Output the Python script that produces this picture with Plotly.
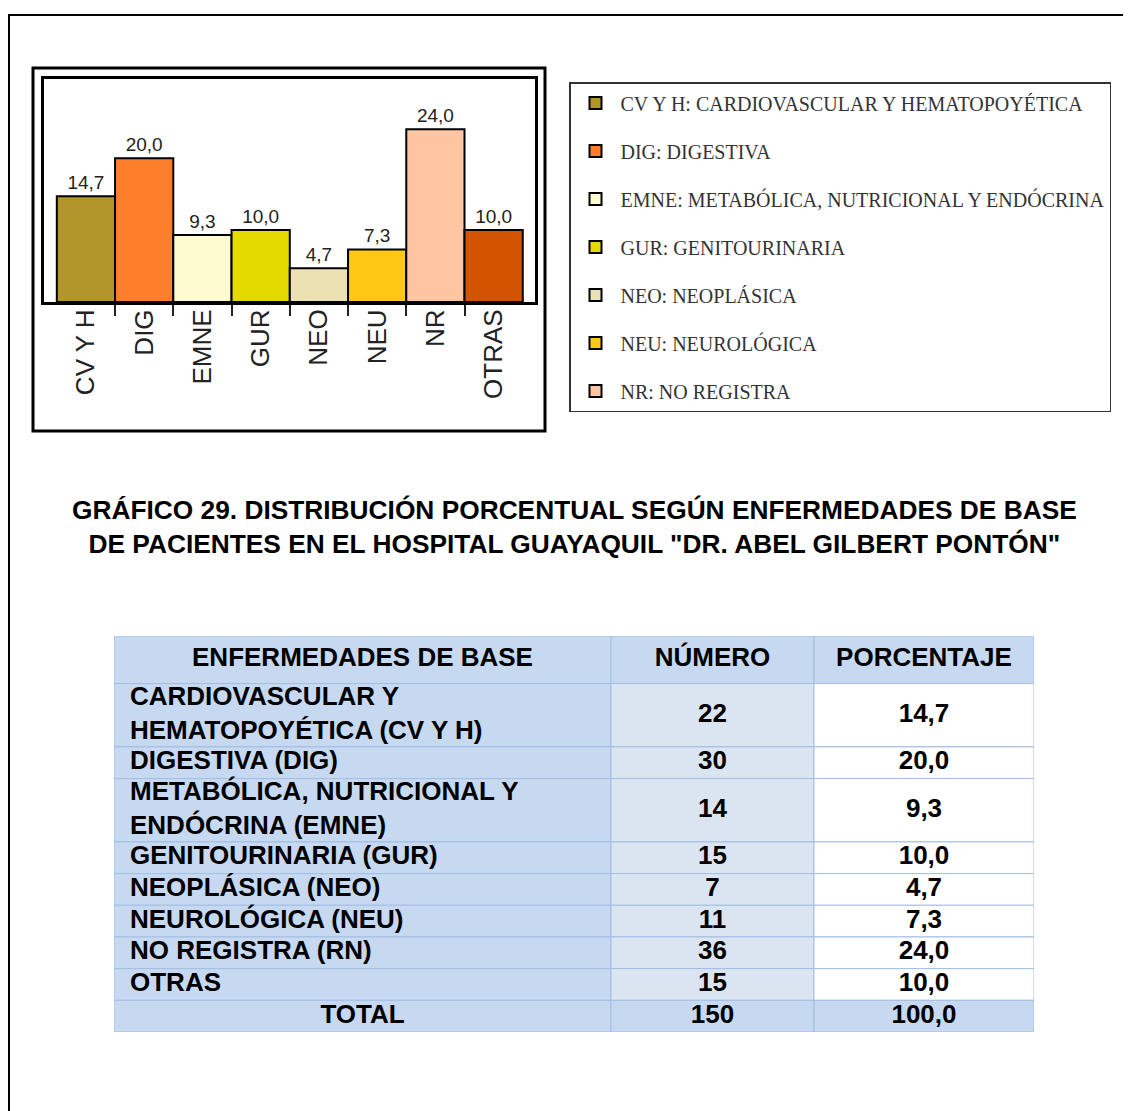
import plotly.graph_objects as go

# ---- bar chart data ----
categories = ["CV Y H", "DIG", "EMNE", "GUR", "NEO", "NEU", "NR", "OTRAS"]
percentages = [14.7, 20.0, 9.3, 10.0, 4.7, 7.3, 24.0, 10.0]
bar_colors = ["#b3962a", "#fd7f2c", "#fffbd1", "#e5da00", "#ece1b3", "#ffc814", "#fec6a3", "#d35400"]
legend_labels = [
    "CV Y H: CARDIOVASCULAR Y HEMATOPOYÉTICA",
    "DIG: DIGESTIVA",
    "EMNE: METABÓLICA, NUTRICIONAL Y ENDÓCRINA",
    "GUR: GENITOURINARIA",
    "NEO: NEOPLÁSICA",
    "NEU: NEUROLÓGICA",
    "NR: NO REGISTRA",
]

# ---- table data ----
table_header = ["ENFERMEDADES DE BASE", "NÚMERO", "PORCENTAJE"]
diseases = [
    "CARDIOVASCULAR Y<br>HEMATOPOYÉTICA (CV Y H)",
    "DIGESTIVA (DIG)",
    "METABÓLICA, NUTRICIONAL Y<br>ENDÓCRINA (EMNE)",
    "GENITOURINARIA (GUR)",
    "NEOPLÁSICA (NEO)",
    "NEUROLÓGICA (NEU)",
    "NO REGISTRA (RN)",
    "OTRAS",
]
counts = [22, 30, 14, 15, 7, 11, 36, 15]
total_label = "TOTAL"

title = ("GRÁFICO 29. DISTRIBUCIÓN PORCENTUAL SEGÚN ENFERMEDADES DE BASE<br>"
         "DE PACIENTES EN EL HOSPITAL GUAYAQUIL \"DR. ABEL GILBERT PONTÓN\"")

W, H = 1131, 1111
OFF = 8  # the page body margin shifts the figure by this much


def px(x):
    return (x - OFF) / W


def py(y):
    return 1 - (y - OFF) / H


def fmt(v):
    return f"{v:.1f}".replace(".", ",")


fig = go.Figure()

# bars, one trace per category so the legend gets an entry each
for i, (cat, val, col) in enumerate(zip(categories, percentages, bar_colors)):
    fig.add_trace(go.Bar(
        x=[i], y=[val], width=1,
        name=legend_labels[i] if i < len(legend_labels) else cat,
        showlegend=i < len(legend_labels),
        legendgroup=str(i),
        marker=dict(color=col, line=dict(color="black", width=2)),
        text=[fmt(val)], textposition="outside", cliponaxis=False,
        textfont=dict(family="Arial", size=19, color="#222"),
        hoverinfo="skip",
    ))

# ---- table built from bars (cell fills) + text ----
col_widths = [497, 203, 220]
col_left = [sum(col_widths[:c]) for c in range(3)]
BLUE, LIGHT, WHITE = "#c6d9f1", "#dbe5f1", "#ffffff"

rows = [table_header]
rows += [[d, str(n), fmt(p)] for d, n, p in zip(diseases, counts, percentages)]
rows += [[total_label, str(sum(counts)), fmt(sum(percentages))]]
row_heights = [1.5] + [d.count("<br>") + 1 for d in diseases] + [1]
row_centers = []
acc = 0
for h in row_heights:
    row_centers.append(acc + h / 2)
    acc += h
n_rows = len(rows)

fills = [
    [BLUE] * n_rows,
    [BLUE] + [LIGHT] * len(diseases) + [BLUE],
    [BLUE] + [WHITE] * len(diseases) + [BLUE],
]

cell_font = dict(family="Arial", size=26, color="black", weight="bold")
for c in range(3):
    fig.add_trace(go.Bar(
        orientation="h", xaxis="x2", yaxis="y2",
        y=row_centers, x=[col_widths[c]] * n_rows, base=col_left[c],
        width=row_heights,
        marker=dict(color=fills[c], line=dict(color="#a3bee3", width=1)),
        showlegend=False, hoverinfo="skip",
    ))
    texts = [r[c] for r in rows]
    mid = col_left[c] + col_widths[c] / 2
    if c == 0:
        xs = [mid] + [col_left[c] + 16] * len(diseases) + [mid]
        pos = ["middle center"] + ["middle right"] * len(diseases) + ["middle center"]
    else:
        xs = [mid] * n_rows
        pos = ["middle center"] * n_rows
    fig.add_trace(go.Scatter(
        x=xs, y=row_centers, text=texts, mode="text", textposition=pos,
        textfont=cell_font, xaxis="x2", yaxis="y2",
        showlegend=False, hoverinfo="skip",
    ))

fig.add_annotation(
    x=px(574), y=py(527), xref="paper", yref="paper",
    text=title, showarrow=False, xanchor="center", yanchor="middle",
    font=dict(family="Arial", size=26.3, color="black", weight="bold"),
)

# page frame and chart frame
fig.add_shape(type="rect", xref="paper", yref="paper",
              x0=px(9), y0=py(15), x1=1.1, y1=-0.1,
              line=dict(color="black", width=2))
fig.add_shape(type="rect", xref="paper", yref="paper",
              x0=px(33), y0=py(68), x1=px(545), y1=py(431),
              line=dict(color="black", width=3))

fig.update_layout(
    width=W, height=H,
    margin=dict(l=0, r=0, t=0, b=0),
    paper_bgcolor="white", plot_bgcolor="white",
    barmode="overlay",
    xaxis=dict(
        domain=[px(44), px(535)], range=[-0.72, 7.71],
        tickvals=list(range(len(categories))), ticktext=categories,
        tickangle=-90, ticks="", showgrid=False, zeroline=False,
        showline=True, linecolor="black", linewidth=3, mirror=True,
        tickfont=dict(family="Arial", size=26, color="#222"),
        ticklabelstandoff=-6,
        minor=dict(tickvals=[i + 0.5 for i in range(len(categories) - 1)],
                   ticks="outside", ticklen=11, tickwidth=1.5, tickcolor="#222"),
        fixedrange=True,
    ),
    yaxis=dict(
        domain=[py(302), py(79)], range=[0, 31],
        showticklabels=False, ticks="", showgrid=False, zeroline=False,
        showline=True, linecolor="black", linewidth=3, mirror=True,
        fixedrange=True,
    ),
    xaxis2=dict(
        domain=[px(114), px(1034)], range=[0, sum(col_widths)],
        visible=False, fixedrange=True, anchor="y2",
    ),
    yaxis2=dict(
        domain=[py(1032), py(636)], range=[sum(row_heights), 0],
        visible=False, fixedrange=True, anchor="x2",
    ),
    legend=dict(
        x=px(569), y=py(82), xanchor="left", yanchor="top",
        bgcolor="white", bordercolor="#333", borderwidth=1.5,
        font=dict(family="Liberation Serif, Times New Roman", size=20, color="#333"),
        tracegroupgap=19, itemwidth=40, itemclick=False, itemdoubleclick=False,
    ),
)

fig.write_html("out.html")
